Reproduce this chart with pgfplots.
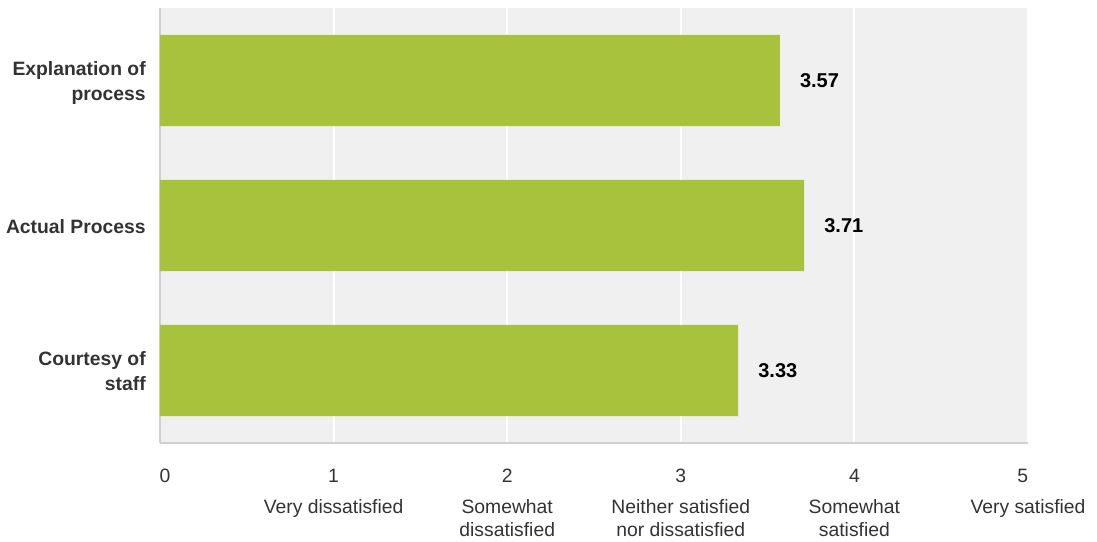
\documentclass[border=0pt]{standalone}
\usepackage{pgfplots}
\pgfplotsset{compat=1.18}
\usepackage{fontspec}
\setmainfont{Liberation Sans}
\definecolor{barc}{HTML}{A8C23E}
\definecolor{bgc}{HTML}{F0F0F0}
\definecolor{txt}{HTML}{333333}
\definecolor{axl}{HTML}{D0D0D0}
\begin{document}
\begin{tikzpicture}[x=1pt,y=1pt]
\path[use as bounding box] (0,0) rectangle (822.75,406.5);
\begin{axis}[
  at={(120pt,74.25pt)}, anchor=south west,
  scale only axis, width=651pt, height=326.25pt,
  xmin=0, xmax=5, ymin=-0.5, ymax=2.5,
  xtick={0,1,2,3,4,5},
  xticklabels={\hspace*{7.5pt}0,1,2,3,4,5\hspace*{8pt}},
  ytick={0,1,2},
  yticklabels={\strut Courtesy of\\staff\strut, \strut Actual Process\strut, \strut Explanation of\\process\strut},
  major tick length=0pt,
  xbar, bar width=0.63,
  axis background/.style={fill=bgc},
  xmajorgrids, grid style={white, line width=1.5pt},
  axis x line*=bottom, axis y line*=left,
  axis line style={-},
  x axis line style={draw=axl, line width=2.2pt},
  y axis line style={draw=axl, line width=1.6pt},
  xticklabel style={anchor=base, yshift=-30pt, font=\fontsize{14.5}{17}\selectfont, text=txt, inner sep=0pt},
  yticklabel style={align=right, anchor=east, inner sep=0pt, xshift=-10.5pt, yshift=-2.25pt, font=\fontsize{14.5}{18.75}\selectfont\bfseries, text=txt},
  point meta=x,
  nodes near coords={\pgfmathprintnumber[fixed,fixed zerofill,precision=2,assume math mode=true]{\pgfplotspointmeta}},
  nodes near coords style={anchor=west, inner sep=0pt, xshift=15pt, font=\fontsize{15}{18}\selectfont\bfseries, text=black},
  clip=false,
]
\addplot[fill=barc, draw=none] coordinates {(3.33,0) (3.71,1) (3.57,2)};
\foreach \xx/\la/\lb in {1/Very dissatisfied/, 2/Somewhat/dissatisfied, 3/Neither satisfied/nor dissatisfied, 4/Somewhat/satisfied, 5/Very satisfied/} {
  \edef\tmp{\noexpand\node[anchor=base, inner sep=0pt, font=\noexpand\fontsize{14.5}{17}\noexpand\selectfont, text=txt] at (axis cs:\xx,-0.5) [yshift=-53.25pt] {\la};
  \noexpand\node[anchor=base, inner sep=0pt, font=\noexpand\fontsize{14.5}{17}\noexpand\selectfont, text=txt] at (axis cs:\xx,-0.5) [yshift=-70.5pt] {\lb};}
  \tmp
}
\end{axis}
\end{tikzpicture}
\end{document}
